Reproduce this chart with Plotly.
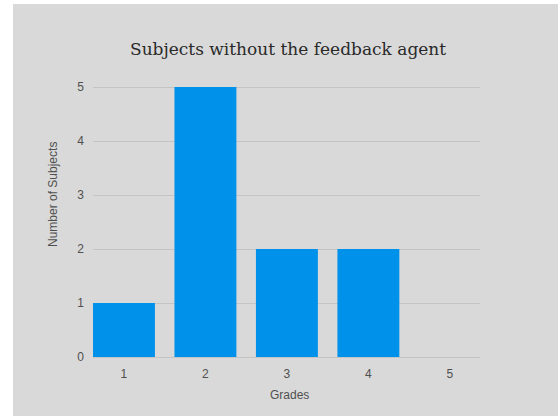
import plotly.graph_objects as go

# Grade distribution for subjects without the feedback agent
grades = [1, 2, 3, 4, 5]
subjects = [1, 5, 2, 2, 0]
y_ticks = [0, 1, 2, 3, 4, 5]

W, H = 559, 418
L, R, T, B = 93, 79, 83, 61
pw, ph = W - L - R, H - T - B
Y_TOP = 5 * ph / (ph - 4)  # headroom so the top gridline is kept


def px_x(p):
    return (p - L) / pw


def px_y(p):
    return (H - B - p) / ph


fig = go.Figure(
    go.Bar(
        x=grades,
        y=subjects,
        marker=dict(color="#0091EA", line=dict(width=0)),
        hoverinfo="x+y",
    )
)

fig.update_layout(
    width=W,
    height=H,
    margin=dict(l=L, r=R, t=T, b=B),
    paper_bgcolor="white",
    plot_bgcolor="rgba(0,0,0,0)",
    bargap=0.24,
    showlegend=False,
    font=dict(family="Liberation Sans, Arial, sans-serif", size=12, color="#505050"),
    shapes=[
        dict(
            type="rect", xref="paper", yref="paper",
            x0=px_x(13), x1=px_x(558), y0=px_y(416), y1=px_y(4),
            fillcolor="#d9d9d9", line=dict(width=0), layer="below",
        )
    ],
    annotations=[
        dict(
            text="Subjects without the feedback agent",
            xref="paper", yref="paper", x=px_x(288), y=px_y(49),
            xanchor="center", yanchor="middle", showarrow=False,
            font=dict(family="DejaVu Serif, serif", size=17, color="#2a2a2a"),
        ),
        dict(
            text="Number of Subjects",
            xref="paper", yref="paper", x=px_x(53), y=px_y(195),
            xanchor="center", yanchor="middle", showarrow=False, textangle=-90,
            font=dict(size=12, color="#505050"),
        ),
        dict(
            text="Grades",
            xref="paper", yref="paper", x=px_x(289), y=px_y(395),
            xanchor="center", yanchor="middle", showarrow=False,
            font=dict(size=12, color="#505050"),
        ),
    ],
)

fig.update_xaxes(
    range=[0.62, 5.37],
    tickvals=grades,
    ticktext=[str(g) for g in grades],
    showgrid=False,
    zeroline=False,
    showline=True,
    linecolor="#c4c4c4",
    linewidth=1,
    ticks="",
    ticklabelstandoff=6,
    fixedrange=True,
)
fig.update_yaxes(
    range=[0, Y_TOP],
    tickvals=y_ticks,
    showgrid=True,
    gridcolor="#c4c4c4",
    gridwidth=1,
    zeroline=False,
    ticks="",
    ticklabelstandoff=8,
    fixedrange=True,
)

fig.write_html("out.html")
